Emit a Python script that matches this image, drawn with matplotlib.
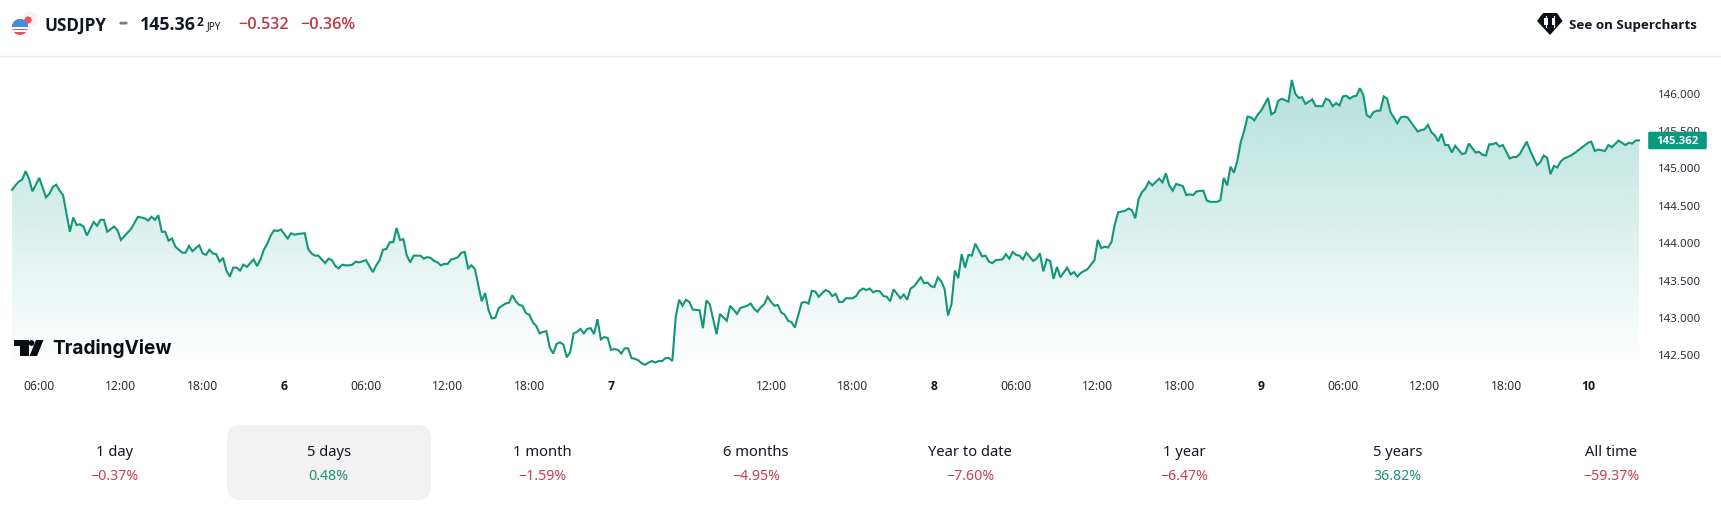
import matplotlib
matplotlib.use("Agg")
import matplotlib.pyplot as plt
import numpy as np
from matplotlib.patches import Circle, FancyBboxPatch, PathPatch, Polygon, Rectangle
from matplotlib.path import Path

# (15-minute bar number, price)
session_5th = [(0,144.70),(1,144.76),(2,144.81),(3,144.84),(4,144.95),(5,144.85),(6,144.68),(8,144.86),(10,144.60),(11,144.65),(12,144.74),(13,144.77),(14,144.69),(15,144.63),(17,144.14),(18,144.33),(19,144.23),(20,144.24),(21,144.21),(22,144.09),(24,144.27),(25,144.22),(26,144.30),(27,144.30),(28,144.14),(30,144.21),(31,144.16),(32,144.03),(35,144.18),(37,144.34),(39,144.32),(40,144.29),(41,144.34),(42,144.30),(43,144.36),(44,144.14),(45,144.14),(46,144.02),(47,144.05),(48,143.94),(49,143.90),(50,143.86),(51,143.86),(52,143.95),(53,143.88),(55,143.96),(56,143.85),(57,143.83),(58,143.90),(59,143.85),(60,143.84),(61,143.74),(62,143.79),(63,143.62),(64,143.54),(65,143.66),(66,143.66),(67,143.62),(68,143.70),(69,143.67),(71,143.77),(72,143.68),(73,143.77),(74,143.90),(75,143.98),(76,144.09),(77,144.16),(78,144.15),(79,144.17)]
session_6th = [(81,144.05),(82,144.12),(83,144.10),(84,144.11),(86,144.12),(87,143.91),(88,143.85),(89,143.82),(90,143.82),(92,143.72),(93,143.78),(94,143.76),(95,143.68),(96,143.65),(97,143.70),(98,143.69),(99,143.69),(100,143.70),(101,143.74),(102,143.73),(104,143.76),(106,143.60),(107,143.69),(108,143.76),(109,143.90),(110,143.91),(111,144.00),(112,144.00),(113,144.19),(114,144.03),(115,144.04),(116,143.82),(117,143.73),(118,143.82),(120,143.82),(121,143.78),(122,143.80),(123,143.79),(124,143.75),(125,143.73),(126,143.69),(127,143.71),(128,143.71),(129,143.77),(130,143.78),(131,143.80),(132,143.86),(133,143.87),(134,143.65),(135,143.69),(136,143.64),(138,143.21),(139,143.32),(140,143.09),(141,142.98),(142,142.99),(143,143.12),(144,143.15),(145,143.18),(146,143.19),(147,143.29),(148,143.21),(149,143.16),(150,143.15),(151,143.05),(152,143.03),(153,142.93),(154,142.88),(155,142.78),(156,142.80),(157,142.81),(158,142.59),(159,142.51),(160,142.64),(161,142.66),(162,142.63),(163,142.46),(164,142.53),(165,142.78),(166,142.80),(167,142.84),(168,142.78),(169,142.84),(170,142.85),(171,142.77),(172,142.97),(173,142.70),(174,142.73),(175,142.72)]
session_7th = [(176,142.56),(177,142.57),(178,142.56),(179,142.51),(180,142.58),(181,142.58),(182,142.45),(183,142.44),(184,142.42),(185,142.38),(186,142.36),(187,142.39),(188,142.41),(189,142.39),(190,142.41),(191,142.41),(192,142.45),(193,142.45),(194,142.41),(195,143.00),(196,143.23),(197,143.15),(198,143.23),(199,143.20),(200,143.10),(202,143.09),(203,142.85),(204,143.22),(205,143.17),(207,142.77),(208,143.04),(210,142.95),(211,143.15),(213,143.04),(214,143.12),(216,143.15),(217,143.18),(218,143.11),(219,143.07),(220,143.13),(221,143.17),(222,143.27),(223,143.20),(224,143.15),(225,143.16),(226,143.06),(227,143.03),(228,142.95),(229,142.93),(230,142.86),(232,143.19),(233,143.20),(234,143.18),(235,143.35),(236,143.34),(237,143.27),(239,143.36),(240,143.34),(241,143.28),(242,143.31),(243,143.20),(244,143.20),(245,143.25),(247,143.25),(248,143.28),(249,143.35),(250,143.38),(251,143.36),(252,143.38),(253,143.33),(254,143.35),(255,143.34),(256,143.28),(257,143.27),(258,143.21),(259,143.37),(261,143.25),(262,143.30),(263,143.23),(264,143.38),(265,143.41),(267,143.53),(268,143.45),(269,143.46),(270,143.41)]
session_8th = [(271,143.40),(272,143.53),(273,143.48),(274,143.37),(275,143.02),(276,143.17),(277,143.62),(278,143.52),(279,143.84),(280,143.66),(281,143.83),(282,143.82),(283,143.98),(285,143.81),(286,143.82),(287,143.74),(288,143.72),(289,143.76),(291,143.77),(292,143.84),(293,143.78),(294,143.87),(295,143.83),(296,143.82),(297,143.77),(298,143.86),(300,143.75),(301,143.78),(302,143.85),(303,143.61),(304,143.77),(305,143.75),(306,143.51),(307,143.67),(308,143.53),(310,143.66),(311,143.57),(312,143.60),(313,143.54),(314,143.59),(316,143.64),(317,143.70),(318,143.76),(319,144.03),(320,143.92),(321,143.94),(322,143.93),(323,144.00),(324,144.24),(325,144.40),(327,144.42),(328,144.45),(329,144.43),(330,144.32),(331,144.58),(332,144.67),(333,144.72),(334,144.81),(335,144.76),(337,144.85),(338,144.80),(339,144.92),(340,144.76),(341,144.69),(342,144.78),(344,144.75),(345,144.63),(346,144.64),(347,144.63),(348,144.68),(350,144.69),(351,144.56),(352,144.54),(353,144.54),(354,144.54),(355,144.56),(356,144.86),(357,144.76),(358,145.01),(359,144.93),(360,145.09),(361,145.34),(362,145.49),(363,145.68),(364,145.67),(365,145.63),(366,145.71)]
session_9th = [(367,145.76),(369,145.93),(370,145.71),(371,145.74),(372,145.89),(373,145.92),(375,145.88),(376,146.17),(377,145.99),(378,145.93),(379,145.94),(380,145.85),(382,145.91),(383,145.82),(385,145.82),(386,145.92),(387,145.90),(388,145.82),(389,145.86),(390,145.83),(391,145.95),(392,145.96),(393,145.92),(394,145.95),(395,145.96),(396,146.06),(397,145.97),(398,145.70),(399,145.67),(400,145.74),(401,145.76),(402,145.76),(403,145.95),(404,145.92),(405,145.74),(407,145.59),(408,145.67),(409,145.68),(410,145.67),(413,145.48),(414,145.50),(415,145.51),(416,145.57),(417,145.47),(418,145.43),(419,145.35),(420,145.45),(421,145.30),(422,145.30),(423,145.20),(424,145.29),(426,145.18),(427,145.19),(428,145.32),(430,145.20),(431,145.21),(432,145.17),(433,145.16),(434,145.31),(435,145.31),(436,145.33),(437,145.28),(438,145.30),(440,145.12),(441,145.14),(442,145.14),(443,145.18),(445,145.345),(446,145.23),(448,145.03),(449,145.07),(450,145.16),(451,145.13),(452,144.91),(453,145.02),(454,145.00),(455,145.08),(456,145.12),(458,145.16),(459,145.19),(461,145.26)]
session_10th = [(463,145.33),(464,145.345),(465,145.22),(466,145.24),(468,145.22),(469,145.30),(470,145.27),(472,145.36),(474,145.30),(475,145.33),(476,145.32),(477,145.36),(478,145.362)]

x_tick_bars = [8,32,56,80,104,128,152,176,223,247,271,295,319,343,367,391,415,439,463]
x_tick_labels = ["06:00","12:00","18:00","6","06:00","12:00","18:00","7","12:00","18:00","8","06:00","12:00","18:00","9","06:00","12:00","18:00","10"]
y_ticks = [142.5,143.0,143.5,144.0,144.5,145.0,145.5,146.0]
last_price = 145.362
change_abs = "\u22120.532"
change_pct = "\u22120.36%"
tab_names = ["1 day","5 days","1 month","6 months","Year to date","1 year","5 years","All time"]
tab_values = [-0.37,0.48,-1.59,-4.95,-7.60,-6.47,36.82,-59.37]

GREEN = "#089981"
LINE = "#12967a"
RED = "#cc3d50"
INK = "#131722"
FONT = "Noto Sans"
BOLD = "Open Sans"
W, H = 1721, 510
plt.rcParams["font.family"] = [FONT, "DejaVu Sans"]

fig = plt.figure(figsize=(W/100, H/100), dpi=100, facecolor="white")
ax = fig.add_axes([12/W, 1-372/H, (1639-12)/W, (372-57)/H])
ax.patch.set_alpha(0)

pts = np.array(session_5th+session_6th+session_7th+session_8th+session_9th+session_10th)
bars, prices = pts[:,0], pts[:,1]
y_low, y_high = 142.277, 146.491

grad = np.zeros((256,1,4))
grad[...,0], grad[...,1], grad[...,2] = 8/255, 153/255, 129/255
grad[...,3] = np.linspace(0.30, 0.0, 256)[:,None]
img = ax.imshow(grad, extent=(bars[0],bars[-1],y_low+0.07,prices.max()), origin="upper",
                aspect="auto", interpolation="bilinear", zorder=1)
poly = np.column_stack([np.r_[bars[0],bars,bars[-1]], np.r_[y_low,prices,y_low]])
clip = PathPatch(Path(poly), transform=ax.transData, fc="none", ec="none")
ax.add_patch(clip)
img.set_clip_path(clip)
ax.plot(bars, prices, color=LINE, lw=1.5, solid_joinstyle="miter", clip_on=False, zorder=3)

ax.set_xlim(0,478)
ax.set_ylim(y_low,y_high)
for s in ax.spines.values():
    s.set_visible(False)
ax.yaxis.tick_right()
ax.set_yticks(y_ticks, [f"{v:.3f}" for v in y_ticks])
ax.set_xticks(x_tick_bars, x_tick_labels)
ax.tick_params(axis="y", length=0, pad=13.7, labelsize=8.3, labelcolor="#2a2e39")
ax.tick_params(axis="x", length=0, pad=6.0, labelsize=8.8, labelcolor="#2a2e39")
for lab in ax.get_xticklabels():
    if ":" not in lab.get_text():
        lab.set_fontfamily(BOLD)
        lab.set_fontweight("bold")
        lab.set_color("#131722")

ov = fig.add_axes([0,0,1,1])
ov.set_xlim(0,W); ov.set_ylim(H,0); ov.axis("off"); ov.patch.set_alpha(0)

# header
ov.plot([0,W],[57,57],color="#eeeeee",lw=1)
ov.add_patch(Circle((30,20),7.5,fc="#f2f2f2",ec="none"))
ov.add_patch(Circle((28,21),3.6,fc="#f0535f",ec="none"))
flag = Circle((20,28),8,fc="#e8505b",ec="none"); ov.add_patch(flag)
for yy,hh,cc in [(20,8,"#3f8fdc"),(28,2,"#ffffff"),(31,1.8,"#ffffff")]:
    r = Rectangle((12,yy),16,hh,fc=cc,ec="none"); ov.add_patch(r); r.set_clip_path(flag)
ov.text(44,25.5,"USDJPY",fontfamily=BOLD,fontsize=12.3,fontweight="bold",color=INK,va="center",ha="left")
ov.add_patch(FancyBboxPatch((120,23.3),7,1.6,boxstyle="round,pad=0.6,rounding_size=1.4",fc="#787b86",ec="none"))
ov.text(140,25.5,f"{last_price:.3f}"[:-1],fontfamily=BOLD,fontsize=12.9,fontweight="bold",color=INK,va="center",ha="left")
ov.text(197,23,f"{last_price:.3f}"[-1],fontfamily=BOLD,fontsize=8.6,fontweight="bold",color=INK,va="center",ha="left")
ov.text(207,27,"JPY",fontsize=7.2,color=INK,va="center",ha="left")
ov.text(238,25,change_abs,fontfamily=BOLD,fontsize=11.6,color="#bd3a4a",va="center",ha="left",fontweight="semibold")
ov.text(300,25,change_pct,fontfamily=BOLD,fontsize=11.6,color="#bd3a4a",va="center",ha="left",fontweight="semibold")
ov.add_patch(Polygon([(1543,14),(1557,14),(1562.5,22),(1550,36),(1537,22)],closed=True,fc="#0c0e15",ec="none",joinstyle="round"))
for cx in (1546,1553.5):
    ov.add_patch(Rectangle((cx-1.6,19),3.2,7,fc="#ffffff",ec="none"))
    ov.plot([cx,cx],[17,28],color="#ffffff",lw=0.8)
ov.text(1569,25,"See on Supercharts",fontfamily=BOLD,fontsize=9.6,fontweight="bold",color=INK,va="center",ha="left")

# watermark
ov.add_patch(Polygon([(14,341),(28.5,341),(28.5,357),(20,357),(20,347),(14,347)],closed=True,fc="#0b0d14",ec="none"))
ov.add_patch(Circle((31.5,344),2.9,fc="#0b0d14",ec="none"))
ov.add_patch(Polygon([(36,341),(43.5,341),(37,357),(29.5,357)],closed=True,fc="#0b0d14",ec="none"))
ov.text(52,349,"TradingView",fontfamily="Inter",fontsize=13.7,fontweight="bold",color="#0b0d14",va="center",ha="left")

# price tag
ov.add_patch(FancyBboxPatch((1649,133.5),57,16,boxstyle="round,pad=0.8,rounding_size=1.5",fc=GREEN,ec="none"))
ov.text(1677.5,141.5,f"{last_price:.3f}",fontfamily=BOLD,fontsize=8.2,fontweight="bold",color="white",va="center",ha="center")

# range tabs
ov.add_patch(FancyBboxPatch((241,426+14),176,47,boxstyle="round,pad=14,rounding_size=14",fc="#f2f2f2",ec="none"))
for i,(name,val) in enumerate(zip(tab_names,tab_values)):
    cx = 114.8+213.8*i
    ov.text(cx,453,name,fontsize=10.6,color=INK,va="center",ha="center")
    txt = f"{val:.2f}%".replace("-","\u2212")
    ov.text(cx,476.5,txt,fontsize=10.2,color=(RED if val<0 else "#1f8f78"),va="center",ha="center")

fig.savefig("out.png",dpi=100,facecolor="white")
